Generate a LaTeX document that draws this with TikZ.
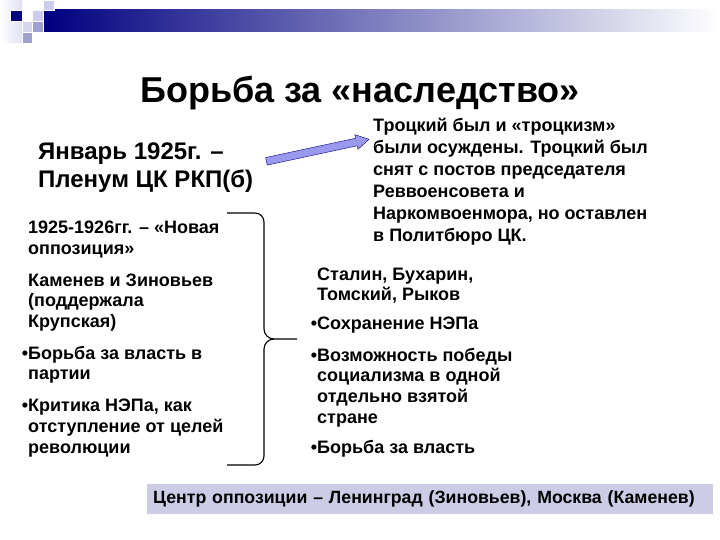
\documentclass[tikz,border=0pt]{standalone}
\usepackage{fontspec}
\setmainfont{Liberation Sans}
\usetikzlibrary{shapes.arrows, calc, positioning}
\definecolor{navybar}{HTML}{000080}
\definecolor{lavarrow}{HTML}{9999EE}
\definecolor{lavbox}{HTML}{CCCCE6}
\definecolor{sqlight}{HTML}{CCCCEE}
\definecolor{sqmid}{HTML}{A0A0D0}

\begin{document}
\begin{tikzpicture}[x=1pt, y=-1pt,
        heading/.style={font=\fontsize{36}{43}\selectfont\bfseries, inner sep=0pt, anchor=base},
        bigtext/.style={font=\fontsize{24}{28}\selectfont\bfseries, align=left, inner sep=0pt, anchor=base west},
        listtext/.style={font=\fontsize{18}{20.7}\selectfont\bfseries, align=left, inner sep=0pt, anchor=base west},
        notetext/.style={font=\fontsize{18}{22}\selectfont\bfseries, align=left, inner sep=0pt, anchor=base west}]
    \useasboundingbox (0,0) rectangle (720,540);

    % header
    \shade[left color=white, right color=sqlight!60] (0,0) rectangle (22,43);
    \shade[left color=navybar, right color=white] (43,10) rectangle (720,32);
    \filldraw[draw=white, fill=navybar] (10,10) rectangle (22,21);
    \filldraw[draw=white, fill=sqlight] (32,10) rectangle (43,21);
    \filldraw[draw=white, fill=sqlight] (43,0) rectangle (54,10);
    \filldraw[draw=white, fill=sqlight!80] (22,21) rectangle (32,32);
    \filldraw[draw=white, fill=sqmid] (32,21) rectangle (43,32);
    \filldraw[draw=white, fill=sqmid] (22,32) rectangle (32,43);

    \node (title) [heading] at (360,103) {Борьба за «наследство»};

    % multi-line nodes sit on the baseline of their last line
    \node (plenum) [bigtext] at (38,188) {Январь 1925г. –\\Пленум ЦК РКП(б)};

    \node (trotsky) [notetext] at (373,241) {Троцкий был и «троцкизм»\\
        были осуждены. Троцкий был\\
        снят с постов председателя\\
        Реввоенсовета и\\
        Наркомвоенмора, но оставлен\\
        в Политбюро ЦК.};

    \coordinate (arwtail) at (263,162);
    \coordinate (arwtip) at (366,140);
    \node (arw) [single arrow, draw=navybar, fill=lavarrow, inner sep=3.5pt, minimum width=15pt,
        single arrow head extend=3.5pt, single arrow tip angle=60, minimum height=105pt, rotate=12.1]
        at ($(arwtail)!0.5!(arwtip)$) {};

    \node (newopp) [listtext] at (28,453) {1925-1926гг. – «Новая\\
        оппозиция»\\[11pt]
        Каменев и Зиновьев\\
        (поддержала\\
        Крупская)\\[11pt]
        \llap{•}Борьба за власть в\\
        партии\\[11pt]
        \llap{•}Критика НЭПа, как\\
        отступление от целей\\
        революции};

    \node (stalin) [listtext] at (317,453) {Сталин, Бухарин,\\
        Томский, Рыков\\[8pt]
        \llap{•}Сохранение НЭПа\\[11pt]
        \llap{•}Возможность победы\\
        социализма в одной\\
        отдельно взятой\\
        стране\\[9pt]
        \llap{•}Борьба за власть};

    % brace
    \draw[line width=1.1pt] (227,213) -- (255,213) to[out=0, in=90] (264,222) -- (264,329)
        to[out=-90, in=180] (274,339) -- (297,339);
    \draw[line width=1.1pt] (274,339) to[out=180, in=90] (264,349) -- (264,456)
        to[out=-90, in=0] (255,465) -- (227,465);

    \node (centre) [fill=lavbox, anchor=north west, text width=554pt, inner xsep=6pt, inner ysep=0pt,
        minimum height=30pt, align=left, font=\fontsize{17.7}{21}\selectfont\bfseries] at (147,484)
        {Центр оппозиции – Ленинград (Зиновьев), Москва (Каменев)};
\end{tikzpicture}
\end{document}
